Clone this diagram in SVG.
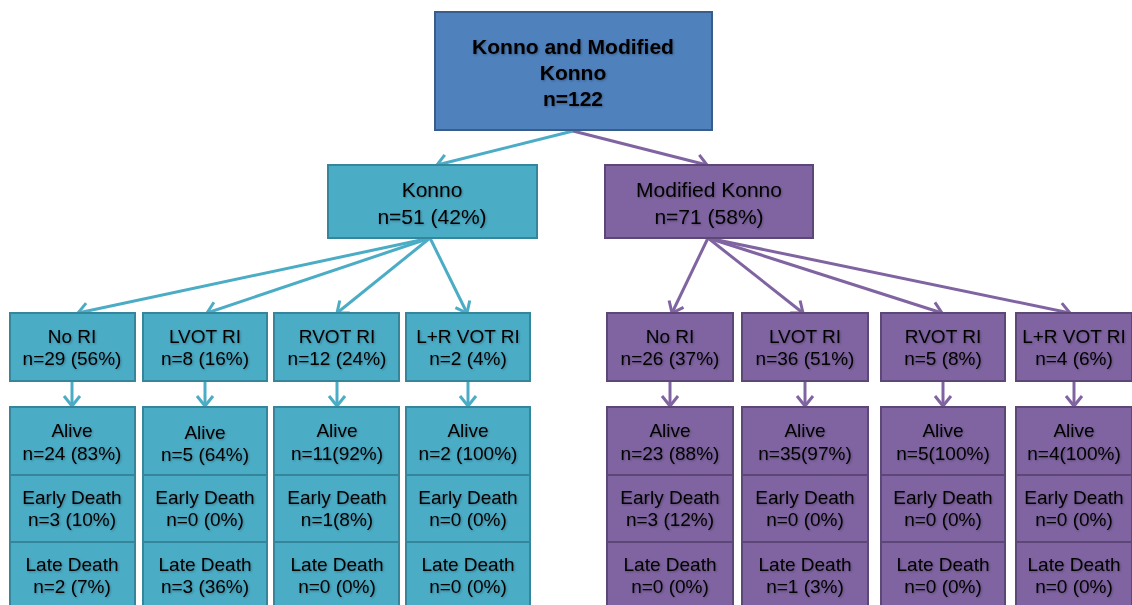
<svg xmlns="http://www.w3.org/2000/svg" width="1132" height="605" viewBox="0 0 1132 605">
<defs>
<filter id="ts" x="-10%" y="-30%" width="130%" height="160%"><feDropShadow dx="1" dy="1" stdDeviation="0.8" flood-color="#000" flood-opacity="0.3"/></filter>
<marker id="at" markerUnits="userSpaceOnUse" markerWidth="24" markerHeight="24" viewBox="-12 -12 24 24" refX="0" refY="0" orient="auto"><path d="M-10,-8 L0,0 L-10,8" fill="none" stroke="#4BACC6" stroke-width="3" stroke-linejoin="miter"/></marker>
<marker id="ap" markerUnits="userSpaceOnUse" markerWidth="24" markerHeight="24" viewBox="-12 -12 24 24" refX="0" refY="0" orient="auto"><path d="M-10,-8 L0,0 L-10,8" fill="none" stroke="#8064A2" stroke-width="3" stroke-linejoin="miter"/></marker>
</defs>
<style>
.top{fill:#4F81BD;stroke:#385D8A;stroke-width:2}
.k{fill:#4BACC6;stroke:#35869B;stroke-width:2}
.m{fill:#8064A2;stroke:#5C4776;stroke-width:2}
text{font-family:"Liberation Sans",Arial,sans-serif;fill:#000;text-anchor:middle;filter:url(#ts)}
.tb{font-size:21px;font-weight:bold}
.t2{font-size:21px}
.t3{font-size:19px}
.ct{fill:none;stroke:#4BACC6;stroke-width:3}
.cp{fill:none;stroke:#8064A2;stroke-width:3}
</style>
<rect width="1132" height="605" fill="#fff"/>
<g id="connectors">
<line class="ct" x1="573" y1="131" x2="437" y2="165" marker-end="url(#at)"/>
<line class="cp" x1="573" y1="131" x2="707" y2="165" marker-end="url(#ap)"/>
<line class="ct" x1="430" y1="238" x2="78" y2="313" marker-end="url(#at)"/>
<line class="ct" x1="430" y1="238" x2="207" y2="313" marker-end="url(#at)"/>
<line class="ct" x1="430" y1="238" x2="337" y2="313" marker-end="url(#at)"/>
<line class="ct" x1="430" y1="238" x2="467" y2="313" marker-end="url(#at)"/>
<line class="cp" x1="708" y1="238" x2="672" y2="313" marker-end="url(#ap)"/>
<line class="cp" x1="708" y1="238" x2="803" y2="313" marker-end="url(#ap)"/>
<line class="cp" x1="708" y1="238" x2="942" y2="313" marker-end="url(#ap)"/>
<line class="cp" x1="708" y1="238" x2="1070" y2="313" marker-end="url(#ap)"/>
<line class="ct" x1="72" y1="381" x2="72" y2="406" marker-end="url(#at)"/>
<line class="ct" x1="205" y1="381" x2="205" y2="406" marker-end="url(#at)"/>
<line class="ct" x1="337" y1="381" x2="337" y2="406" marker-end="url(#at)"/>
<line class="ct" x1="468" y1="381" x2="468" y2="406" marker-end="url(#at)"/>
<line class="cp" x1="670" y1="381" x2="670" y2="406" marker-end="url(#ap)"/>
<line class="cp" x1="805" y1="381" x2="805" y2="406" marker-end="url(#ap)"/>
<line class="cp" x1="943" y1="381" x2="943" y2="406" marker-end="url(#ap)"/>
<line class="cp" x1="1074" y1="381" x2="1074" y2="406" marker-end="url(#ap)"/>
</g>
<g id="root"><rect class="top" x="435" y="12" width="277" height="118"/><text class="tb" x="573" y="54">Konno and Modified</text><text class="tb" x="573" y="80">Konno</text><text class="tb" x="573" y="106">n=122</text></g>
<g id="konno"><rect class="k" x="328" y="165" width="209" height="73"/><text class="t2" x="432" y="197">Konno</text><text class="t2" x="432" y="224">n=51 (42%)</text></g>
<g id="modkonno"><rect class="m" x="605" y="165" width="208" height="73"/><text class="t2" x="709" y="197">Modified Konno</text><text class="t2" x="709" y="224">n=71 (58%)</text></g>

<g id="k-nori"><rect class="k" x="10" y="313" width="125" height="68"/><text class="t3" x="72" y="343">No RI</text><text class="t3" x="72" y="365">n=29 (56%)</text></g>
<g id="k-lvot"><rect class="k" x="143" y="313" width="124" height="68"/><text class="t3" x="205" y="343">LVOT RI</text><text class="t3" x="205" y="365">n=8 (16%)</text></g>
<g id="k-rvot"><rect class="k" x="274" y="313" width="125" height="68"/><text class="t3" x="337" y="343">RVOT RI</text><text class="t3" x="337" y="365">n=12 (24%)</text></g>
<g id="k-lr"><rect class="k" x="406" y="313" width="124" height="68"/><text class="t3" x="468" y="343">L+R VOT RI</text><text class="t3" x="468" y="365">n=2 (4%)</text></g>
<g id="m-nori"><rect class="m" x="607" y="313" width="126" height="68"/><text class="t3" x="670" y="343">No RI</text><text class="t3" x="670" y="365">n=26 (37%)</text></g>
<g id="m-lvot"><rect class="m" x="742" y="313" width="126" height="68"/><text class="t3" x="805" y="343">LVOT RI</text><text class="t3" x="805" y="365">n=36 (51%)</text></g>
<g id="m-rvot"><rect class="m" x="881" y="313" width="124" height="68"/><text class="t3" x="943" y="343">RVOT RI</text><text class="t3" x="943" y="365">n=5 (8%)</text></g>
<g id="m-lr"><rect class="m" x="1016" y="313" width="116" height="68"/><text class="t3" x="1074" y="343">L+R VOT RI</text><text class="t3" x="1074" y="365">n=4 (6%)</text></g>

<g id="k-nori-alive"><rect class="k" x="10" y="407" width="125" height="68"/><text class="t3" x="72" y="437">Alive</text><text class="t3" x="72" y="460">n=24 (83%)</text></g>
<g id="k-nori-early"><rect class="k" x="10" y="475" width="125" height="67"/><text class="t3" x="72" y="504">Early Death</text><text class="t3" x="72" y="526">n=3 (10%)</text></g>
<g id="k-nori-late"><rect class="k" x="10" y="542" width="125" height="70"/><text class="t3" x="72" y="571">Late Death</text><text class="t3" x="72" y="593">n=2 (7%)</text></g>

<g id="k-lvot-alive"><rect class="k" x="143" y="407" width="124" height="68"/><text class="t3" x="205" y="439">Alive</text><text class="t3" x="205" y="461">n=5 (64%)</text></g>
<g id="k-lvot-early"><rect class="k" x="143" y="475" width="124" height="67"/><text class="t3" x="205" y="504">Early Death</text><text class="t3" x="205" y="526">n=0 (0%)</text></g>
<g id="k-lvot-late"><rect class="k" x="143" y="542" width="124" height="70"/><text class="t3" x="205" y="571">Late Death</text><text class="t3" x="205" y="593">n=3 (36%)</text></g>

<g id="k-rvot-alive"><rect class="k" x="274" y="407" width="125" height="68"/><text class="t3" x="337" y="437">Alive</text><text class="t3" x="337" y="460">n=11(92%)</text></g>
<g id="k-rvot-early"><rect class="k" x="274" y="475" width="125" height="67"/><text class="t3" x="337" y="504">Early Death</text><text class="t3" x="337" y="526">n=1(8%)</text></g>
<g id="k-rvot-late"><rect class="k" x="274" y="542" width="125" height="70"/><text class="t3" x="337" y="571">Late Death</text><text class="t3" x="337" y="593">n=0 (0%)</text></g>

<g id="k-lr-alive"><rect class="k" x="406" y="407" width="124" height="68"/><text class="t3" x="468" y="437">Alive</text><text class="t3" x="468" y="460">n=2 (100%)</text></g>
<g id="k-lr-early"><rect class="k" x="406" y="475" width="124" height="67"/><text class="t3" x="468" y="504">Early Death</text><text class="t3" x="468" y="526">n=0 (0%)</text></g>
<g id="k-lr-late"><rect class="k" x="406" y="542" width="124" height="70"/><text class="t3" x="468" y="571">Late Death</text><text class="t3" x="468" y="593">n=0 (0%)</text></g>

<g id="m-nori-alive"><rect class="m" x="607" y="407" width="126" height="68"/><text class="t3" x="670" y="437">Alive</text><text class="t3" x="670" y="460">n=23 (88%)</text></g>
<g id="m-nori-early"><rect class="m" x="607" y="475" width="126" height="67"/><text class="t3" x="670" y="504">Early Death</text><text class="t3" x="670" y="526">n=3 (12%)</text></g>
<g id="m-nori-late"><rect class="m" x="607" y="542" width="126" height="70"/><text class="t3" x="670" y="571">Late Death</text><text class="t3" x="670" y="593">n=0 (0%)</text></g>

<g id="m-lvot-alive"><rect class="m" x="742" y="407" width="126" height="68"/><text class="t3" x="805" y="437">Alive</text><text class="t3" x="805" y="460">n=35(97%)</text></g>
<g id="m-lvot-early"><rect class="m" x="742" y="475" width="126" height="67"/><text class="t3" x="805" y="504">Early Death</text><text class="t3" x="805" y="526">n=0 (0%)</text></g>
<g id="m-lvot-late"><rect class="m" x="742" y="542" width="126" height="70"/><text class="t3" x="805" y="571">Late Death</text><text class="t3" x="805" y="593">n=1 (3%)</text></g>

<g id="m-rvot-alive"><rect class="m" x="881" y="407" width="124" height="68"/><text class="t3" x="943" y="437">Alive</text><text class="t3" x="943" y="460">n=5(100%)</text></g>
<g id="m-rvot-early"><rect class="m" x="881" y="475" width="124" height="67"/><text class="t3" x="943" y="504">Early Death</text><text class="t3" x="943" y="526">n=0 (0%)</text></g>
<g id="m-rvot-late"><rect class="m" x="881" y="542" width="124" height="70"/><text class="t3" x="943" y="571">Late Death</text><text class="t3" x="943" y="593">n=0 (0%)</text></g>

<g id="m-lr-alive"><rect class="m" x="1016" y="407" width="116" height="68"/><text class="t3" x="1074" y="437">Alive</text><text class="t3" x="1074" y="460">n=4(100%)</text></g>
<g id="m-lr-early"><rect class="m" x="1016" y="475" width="116" height="67"/><text class="t3" x="1074" y="504">Early Death</text><text class="t3" x="1074" y="526">n=0 (0%)</text></g>
<g id="m-lr-late"><rect class="m" x="1016" y="542" width="116" height="70"/><text class="t3" x="1074" y="571">Late Death</text><text class="t3" x="1074" y="593">n=0 (0%)</text></g>
</svg>
